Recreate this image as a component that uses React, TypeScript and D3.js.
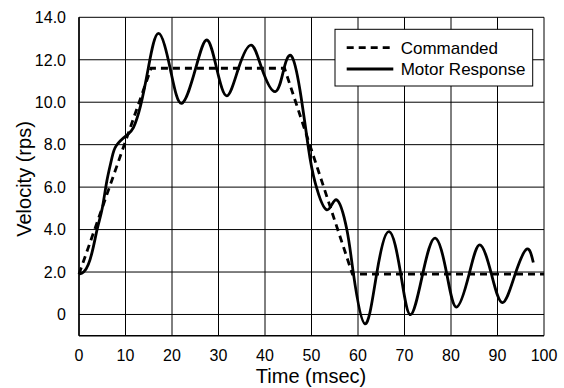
import React from "react";
import * as d3 from "d3";

const xTicks = [0, 10, 20, 30, 40, 50, 60, 70, 80, 90, 100];
const yTicks = [0, 2, 4, 6, 8, 10, 12, 14];
const yTickLabels = ["0", "2.0", "4.0", "6.0", "8.0", "10.0", "12.0", "14.0"];

const commandedT = [0, 15.5, 44.2, 58.8, 100];
const commandedV = [1.9, 11.6, 11.6, 1.9, 1.9];

const motorT = [
  0, 1, 2, 3, 4, 5, 6, 7, 8, 10.3, 11.7, 13.2, 14.9, 17.1, 19.7, 22.1, 25.1, 27.5,
  29.6, 31.8, 34.3, 37.0, 39.3, 42.2, 44.1, 45.7, 47.5, 49.3, 50.8, 53.3, 55.4, 57.6,
  59.0, 61.5, 64.0, 66.7, 69.2, 71.3, 73.9, 76.6, 79.1, 81.2, 83.9, 86.2, 88.7, 91.1,
  93.8, 96.3, 97.7,
];
const motorV = [
  1.9, 2.0, 2.35, 3.1, 4.1, 5.0, 6.3, 7.3, 7.95, 8.45, 8.8, 9.8, 11.6, 13.24, 11.5, 9.95,
  11.6, 12.93, 11.6, 10.3, 11.6, 12.69, 11.6, 10.5, 11.6, 12.17, 10.6, 7.9, 6.2, 4.93, 5.4,
  4.0, 1.95, -0.44, 1.9, 3.9, 1.9, -0.01, 1.9, 3.6, 1.9, 0.35, 1.9, 3.28, 1.9, 0.56, 1.9,
  3.08, 2.45,
];

const W = 564;
const H = 388;
const left = 79;
const right = 544;
const top = 17.3;
const bottom = 335.7;

export default function App() {
  const x = d3.scaleLinear().domain([0, 100]).range([left, right]);
  const y = d3.scaleLinear().domain([-1, 14]).range([bottom, top]);

  const commanded = commandedT.map((t, i) => [t, commandedV[i]] as [number, number]);
  const motor = motorT.map((t, i) => [t, motorV[i]] as [number, number]);

  const lineLinear = d3
    .line<[number, number]>()
    .x((d) => x(d[0]))
    .y((d) => y(d[1]));
  const lineSmooth = d3
    .line<[number, number]>()
    .x((d) => x(d[0]))
    .y((d) => y(d[1]))
    .curve(d3.curveNatural);

  const font = "'Liberation Sans', Arial, Helvetica, sans-serif";

  return (
    <svg
      width={W}
      height={H}
      style={{ position: "absolute", left: 0, top: 0, background: "#fff" }}
      fontFamily={font}
    >
      <rect x={0} y={0} width={W} height={H} fill="#fff" />
      {/* grid */}
      {xTicks.map((t) => (
        <line key={"gx" + t} x1={x(t)} x2={x(t)} y1={top} y2={bottom} stroke="#000" strokeWidth={1} />
      ))}
      {yTicks.map((t) => (
        <line key={"gy" + t} x1={left} x2={right} y1={y(t)} y2={y(t)} stroke="#000" strokeWidth={1} />
      ))}
      <line x1={left} x2={right} y1={bottom} y2={bottom} stroke="#000" strokeWidth={1.5} />
      <line x1={left} x2={left} y1={top} y2={bottom} stroke="#000" strokeWidth={1.5} />

      {/* tick labels */}
      {xTicks.map((t) => (
        <text key={"tx" + t} x={x(t)} y={360.5} textAnchor="middle" fontSize={16} fill="#000">
          {t}
        </text>
      ))}
      {yTicks.map((t, i) => (
        <text key={"ty" + t} x={66} y={y(t) + 5.8} textAnchor="end" fontSize={16} fill="#000">
          {yTickLabels[i]}
        </text>
      ))}

      {/* axis titles */}
      <text x={311} y={383} textAnchor="middle" fontSize={20} fill="#000">
        Time (msec)
      </text>
      <text
        transform={`translate(31,179) rotate(-90)`}
        textAnchor="middle"
        fontSize={20}
        fill="#000"
      >
        Velocity (rps)
      </text>

      {/* data */}
      <path d={lineLinear(commanded) || ""} fill="none" stroke="#000" strokeWidth={2.8} strokeDasharray="7,5" />
      <path d={lineSmooth(motor) || ""} fill="none" stroke="#000" strokeWidth={2.8} strokeLinejoin="round" />

      {/* legend */}
      <rect x={335} y={29.3} width={197.7} height={56.7} fill="#fff" stroke="#000" strokeWidth={1} />
      <line x1={346.7} x2={393.3} y1={47.7} y2={47.7} stroke="#000" strokeWidth={2.8} strokeDasharray="7,5" />
      <line x1={346.7} x2={393.3} y1={69} y2={69} stroke="#000" strokeWidth={2.8} />
      <text x={400.7} y={53.5} fontSize={17} fill="#000">
        Commanded
      </text>
      <text x={400.7} y={75} fontSize={17} fill="#000">
        Motor Response
      </text>
    </svg>
  );
}
